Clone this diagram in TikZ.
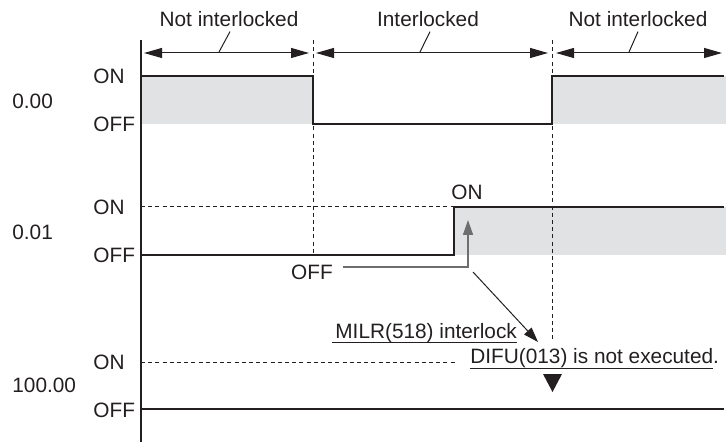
\documentclass[tikz,border=0pt]{standalone}
\usepackage{fontspec}
\setmainfont{Liberation Sans}
\usetikzlibrary{arrows.meta,positioning,calc}
\definecolor{fillgray}{RGB}{225,226,228}
\definecolor{ink}{RGB}{35,31,32}
\definecolor{pointer}{RGB}{110,110,112}

\begin{document}
\begin{tikzpicture}[x=0.5pt,y=-0.5pt,font=\fontsize{10.4}{12.5}\selectfont,color=ink,
  sig/.style={line width=1pt},
  guide/.style={line width=0.5pt,dash pattern=on 2pt off 1.6pt},
  span/.style={line width=0.5pt,{Triangle[length=9pt,width=5pt]}-{Triangle[length=9pt,width=5pt]}},
  lbl/.style={inner sep=0pt}]
\useasboundingbox (0,0) rectangle (726,442);
% shaded ON areas
\fill[fillgray] (141,76) rectangle (313,124);
\fill[fillgray] (552,76) rectangle (726,124);
\fill[fillgray] (454,207) rectangle (726,255);
% time axis and boundaries
\draw[line width=0.75pt] (141,40)--(141,442);
\draw[guide] (313,40)--(313,255);
\draw[guide] (552,40)--(552,340);
\draw[guide] (141,207)--(454,207);
\draw[guide] (141,362)--(455,362);
% interlock ranges
\coordinate (a0) at (144,53); \coordinate (a1) at (309,53);
\coordinate (b0) at (316,53); \coordinate (b1) at (548,53);
\coordinate (c0) at (556,53); \coordinate (c1) at (722,53);
\draw[span] (a0)--(a1);
\draw[span] (b0)--(b1);
\draw[span] (c0)--(c1);
\node[lbl,anchor=base] (nl1) at (229,27) {Not interlocked};
\node[lbl,anchor=base] (il) at (428,27) {Interlocked};
\node[lbl,anchor=base] (nl2) at (638,27) {Not interlocked};
\draw[line width=0.5pt] ($(nl1.south)+(1,4)$)--(219,52);
\draw[line width=0.5pt] ($(il.south)+(2,4)$)--(420,52);
\draw[line width=0.5pt] ($(nl2.south)+(0,4)$)--(629,52);
% signals
\draw[sig] (141,76)--(313,76)--(313,124)--(552,124)--(552,76)--(724,76);
\draw[sig] (141,255)--(454,255)--(454,207)--(724,207);
\draw[sig] (141,409)--(724,409);
% level labels
\node[lbl,anchor=west] (s0) at (12,101) {0.00};
\node[lbl,anchor=west] (s1) at (12,232) {0.01};
\node[lbl,anchor=west] (s2) at (12,385) {100.00};
\foreach \n/\on/\off in {0/76/124,1/207/255,2/362/410}{
  \node[lbl,anchor=west] (on\n) at (93,\on) {ON};
  \node[lbl,anchor=west] (off\n) at (93,\off) {OFF};
}
\node[lbl] (rise) at (467,192) {ON};
\node[lbl] (low) at (312,272) {OFF};
% pointers
\coordinate (bend) at (468,267);
\coordinate (tip) at (468,220);
\draw[pointer,line width=0.75pt,-{Triangle[length=7.5pt,width=5pt]}] ($(low.east)+(10,-5)$)--(bend)--(tip);
\coordinate (d0) at (473,272);
\coordinate (d1) at (538,342);
\draw[line width=0.5pt,-{Triangle[length=7.5pt,width=5pt]}] (d0)--(d1);
\node[lbl,anchor=base west] (milr) at (335,338) {MILR(518) interlock};
\draw[line width=0.5pt] ($(milr.south west)+(-3,0)$)--(milr.south east);
\node[lbl,anchor=base west] (difu) at (470,364) {DIFU(013) is not executed.};
\draw[line width=0.5pt] (difu.south west)--($(difu.south east)+(-6,0)$);
\fill (543,374)--(562,374)--(552.5,392)--cycle;
\end{tikzpicture}
\end{document}
